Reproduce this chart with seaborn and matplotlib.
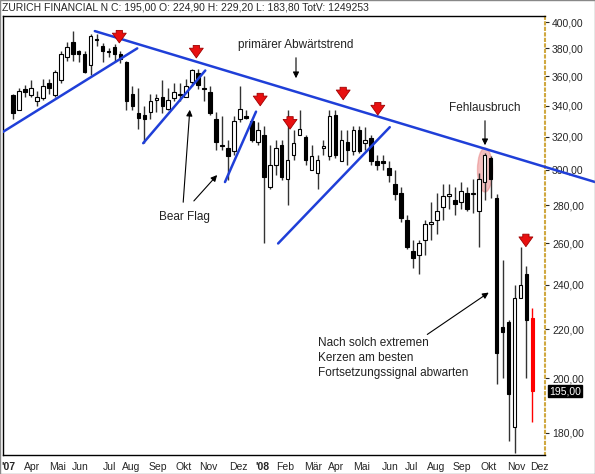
import numpy as np
import pandas as pd
import matplotlib
matplotlib.use("Agg")
import matplotlib.pyplot as plt
from matplotlib.patches import Ellipse
from matplotlib.ticker import FixedLocator, NullLocator, NullFormatter
import seaborn as sns

# weekly candles, Zurich Financial, Mar 2007 - Nov 2008
opens = [347, 337, 351, 347, 343, 345, 355, 347, 357, 374, 385, 378, 376, 368, 387, 382, 378, 381, 376, 370,
         348, 335, 334, 336, 344, 346, 338, 345, 347, 346, 356, 362, 352, 349, 331, 315, 313, 311, 331, 333,
         330, 317, 321, 290, 303, 315, 295, 309, 321, 320, 300, 298, 313, 308, 334, 305, 317, 311, 324, 316,
         319, 305, 305, 301, 292, 287, 272, 256, 254, 262, 270, 272, 279, 285, 283, 282, 287, 286, 277, 293,
         307, 284, 221, 223, 182, 234, 245, 224.9]
highs = [348, 352, 354, 357, 350, 358, 358, 364, 378, 385, 393, 379, 378, 391, 391, 384, 380, 383, 378, 371,
         353, 352, 340, 348, 348, 357, 352, 355, 355, 358, 365, 365, 360, 353, 336, 333, 318, 333, 353, 337,
         331, 329, 327, 315, 318, 318, 337, 324, 337, 321, 315, 309, 318, 337, 337, 324, 324, 327, 327, 326,
         321, 309, 309, 305, 300, 290, 275, 262, 262, 272, 282, 287, 292, 292, 290, 293, 290, 295, 298, 310,
         308, 286, 252, 224, 240, 258, 249, 229.2]
lows = [331, 337, 346, 346, 340, 344, 348, 346, 355, 371, 371, 370, 362, 361, 382, 370, 374, 371, 369, 337,
        337, 325, 316, 331, 336, 335, 337, 343, 343, 346, 353, 351, 343, 334, 312, 312, 294, 309, 329, 331,
        317, 315, 260, 289, 297, 294, 280, 306, 321, 303, 300, 289, 309, 306, 307, 305, 303, 309, 310, 312,
        303, 300, 300, 293, 283, 271, 257, 248, 245, 254, 262, 265, 272, 278, 275, 278, 277, 276, 258, 283,
        284, 198, 200, 177, 173, 234, 200, 183.8]
closes = [335, 350, 349, 352, 346, 353, 352, 363, 376, 381, 376, 376, 363, 389, 386, 378, 377, 376, 372, 343,
          340, 332, 331, 343, 345, 340, 344, 349, 348, 353, 364, 354, 351, 335, 317, 314, 308, 330, 338, 332,
          318, 324, 296, 303, 313, 296, 306, 316, 325, 306, 308, 306, 314, 333, 309, 318, 312, 324, 311, 318,
          305, 303, 304, 297, 286, 273, 258, 253, 260, 270, 270, 277, 285, 286, 281, 288, 278, 287, 295, 309,
          295, 210, 219, 194, 234, 240, 224, 195]

month_labels = ["'07", "Apr", "Mai", "Jun", "Jul", "Aug", "Sep", "Okt", "Nov", "Dez", "'08", "Feb",
                "Mär", "Apr", "Mai", "Jun", "Jul", "Aug", "Sep", "Okt", "Nov", "Dez"]
month_pos = [-0.8, 3.2, 7.4, 11.2, 16.2, 19.8, 24.3, 28.5, 32.7, 37.7, 41.7, 45.6,
             50.3, 54.1, 58.3, 63.2, 66.8, 70.9, 75.2, 79.6, 84.3, 88.1]
price_ticks = [180, 200, 220, 240, 260, 280, 300, 320, 340, 360, 380, 400]

df = pd.DataFrame({"open": opens, "high": highs, "low": lows, "close": closes})
df["i"] = np.arange(len(df))

sns.set_style("white")
plt.rcParams["font.family"] = ["Liberation Sans", "DejaVu Sans"]

W, H = 595, 474
fig = plt.figure(figsize=(W / 100, H / 100), dpi=100)
L, R, T, B = 3, 545, 16, 455
ax = fig.add_axes([L / W, 1 - B / H, (R - L) / W, (B - T) / H])


def px(x, y):
    # pixel position -> axes fraction
    return ((x - L) / (R - L), 1 - (y - T) / (B - T))


ax.set_yscale("log")
ax.set_xlim(-1.68, 89.1)
ax.set_ylim(172.3, 404.7)

# candles
for _, r in df.iterrows():
    last = r.i == len(df) - 1
    up = r.close >= r.open
    wick = "red" if last else "#333333"
    ax.vlines(r.i, r.low, r.high, color=wick, lw=1, zorder=2)
    lo, hi = min(r.open, r.close), max(r.open, r.close)
    if hi - lo < 1:
        hi = lo + 1
    face = "red" if last else ("white" if up else "black")
    edge = "red" if last else "black"
    ax.bar(r.i, hi - lo, bottom=lo, width=0.6, color=face, edgecolor=edge, lw=0.8, zorder=3)

# trend lines
blue = "#1f3fd8"
ax.plot([13.7, 97.5], [393, 293], color=blue, lw=1.8, clip_on=False, zorder=4)
ax.plot([-1.7, 20.8], [323, 380], color=blue, lw=1.8, zorder=4)
ax.plot([21.8, 32.2], [316, 364], color=blue, lw=1.8, zorder=4)
ax.plot([35.5, 40.7], [293, 336], color=blue, lw=1.8, zorder=4)
ax.plot([44.4, 63.1], [260, 326], color=blue, lw=1.8, zorder=4)

# red signal arrows
for xi, pt in [(17.8, 382), (30.7, 371), (41.4, 338), (46.4, 323), (55.3, 342), (61.1, 332), (85.9, 257)]:
    ax.annotate("", xy=(xi, pt), xytext=(0, 13), textcoords="offset points",
                arrowprops=dict(arrowstyle="simple,head_length=0.7,head_width=1.0,tail_width=0.45",
                                fc="#e81010", ec="#a00000", lw=0.6), zorder=6)

ax.add_patch(Ellipse(px(485, 170), 15 / (R - L), 44 / (B - T), transform=ax.transAxes,
                     color="#e88080", alpha=0.5, zorder=1))

# labels
tk = dict(fontsize=8.5, color="#222222")
arr = dict(arrowstyle="-|>", color="black", lw=0.8, mutation_scale=9)
ax.text(*px(296, 45), "primärer Abwärtstrend", ha="center", va="center", transform=ax.transAxes, **tk)
ax.annotate("", xy=px(296, 81), xytext=px(296, 55), xycoords="axes fraction", arrowprops=arr)
ax.text(*px(485, 108), "Fehlausbruch", ha="center", va="center", transform=ax.transAxes, **tk)
ax.annotate("", xy=px(485, 148), xytext=px(485, 118), xycoords="axes fraction", arrowprops=arr)
ax.text(*px(184, 217), "Bear Flag", ha="center", va="center", transform=ax.transAxes, **tk)
ax.annotate("", xy=px(190, 107), xytext=px(183, 205), xycoords="axes fraction", arrowprops=arr)
ax.annotate("", xy=px(219, 173), xytext=px(192, 203), xycoords="axes fraction", arrowprops=arr)
ax.text(*px(318, 358), "Nach solch extremen\nKerzen am besten\nFortsetzungssignal abwarten",
        ha="left", va="center", linespacing=1.3, transform=ax.transAxes, **tk)
ax.annotate("", xy=px(491, 291), xytext=px(425, 336), xycoords="axes fraction", arrowprops=arr)

# axes
ax.yaxis.tick_right()
ax.yaxis.set_major_locator(FixedLocator(price_ticks))
ax.yaxis.set_minor_locator(NullLocator())
ax.yaxis.set_minor_formatter(NullFormatter())
ax.set_yticklabels([f"{p:.2f}".replace(".", ",") for p in price_ticks], fontsize=7.5)
ax.tick_params(axis="y", direction="out", length=3, pad=2, right=True)
ax.set_xticks(month_pos)
ax.set_xticklabels(month_labels, fontsize=7.5)
for t in ax.get_xticklabels():
    if t.get_text().startswith("'"):
        t.set_fontweight("bold")
ax.tick_params(axis="x", direction="out", length=3, pad=2)
for s in ["top", "left", "bottom"]:
    ax.spines[s].set_color("black")
    ax.spines[s].set_linewidth(1)
ax.spines["right"].set_color("#d0a840")
ax.spines["right"].set_linestyle(":")
ax.spines["right"].set_linewidth(1.5)

ax.annotate("195,00", xy=(1.0, 195), xycoords=("axes fraction", "data"), xytext=(3, 0),
            textcoords="offset points", va="center", ha="left", fontsize=7.5, color="white",
            bbox=dict(boxstyle="square,pad=0.1", fc="black", ec="black"))

fig.text(2 / W, 1 - 8 / H, "ZURICH FINANCIAL N C: 195,00 O: 224,90 H: 229,20 L: 183,80 TotV: 1249253",
         fontsize=7.5, va="center", ha="left")
fig.add_artist(plt.Rectangle((0, 0), 1, 1, transform=fig.transFigure, fill=False, ec="#888888", lw=1))

fig.savefig("out.png", dpi=100)
